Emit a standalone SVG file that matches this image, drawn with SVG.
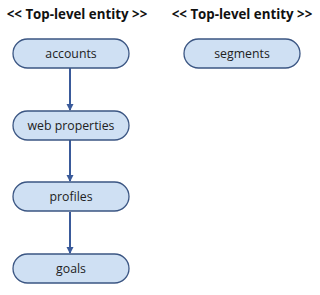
<svg xmlns="http://www.w3.org/2000/svg" width="320" height="295" viewBox="0 0 320 295">
<defs>
<style>
.title{font-family:"Open Sans","Liberation Sans",sans-serif;font-weight:bold;font-size:13.3px;fill:#111;text-anchor:middle}
.box{fill:#cfe0f3;stroke:#3b5683;stroke-width:1.3}
.lbl{font-family:"Open Sans","Liberation Sans",sans-serif;font-size:12.3px;fill:#222;text-anchor:middle}
.conn{stroke:#3a5a9a;stroke-width:2;fill:none}
</style>
<marker id="ah" markerWidth="8" markerHeight="8" refX="6" refY="4" orient="auto" markerUnits="userSpaceOnUse">
<path d="M0,0.5 L7,4 L0,7.5 Z" fill="#3a5a9a"/>
</marker>
</defs>
<rect width="320" height="295" fill="#fff"/>
<text class="title" x="77" y="19">&lt;&lt; Top-level entity &gt;&gt;</text>
<text class="title" x="242" y="19">&lt;&lt; Top-level entity &gt;&gt;</text>
<g id="connectors">
<line class="conn" x1="70" y1="68" x2="70" y2="110" marker-end="url(#ah)"/>
<line class="conn" x1="70" y1="140" x2="70" y2="181" marker-end="url(#ah)"/>
<line class="conn" x1="70" y1="212" x2="70" y2="253" marker-end="url(#ah)"/>
</g>
<g id="accounts"><rect class="box" x="13" y="39" width="116" height="29" rx="14.5"/><text class="lbl" x="71" y="58">accounts</text></g>
<g id="web-properties"><rect class="box" x="13" y="111" width="116" height="29" rx="14.5"/><text class="lbl" x="71" y="130">web properties</text></g>
<g id="profiles"><rect class="box" x="13" y="182" width="116" height="29" rx="14.5"/><text class="lbl" x="71" y="201">profiles</text></g>
<g id="goals"><rect class="box" x="13" y="254" width="116" height="29" rx="14.5"/><text class="lbl" x="71" y="273">goals</text></g>
<g id="segments"><rect class="box" x="184" y="39" width="116" height="29" rx="14.5"/><text class="lbl" x="242" y="58">segments</text></g>
</svg>
